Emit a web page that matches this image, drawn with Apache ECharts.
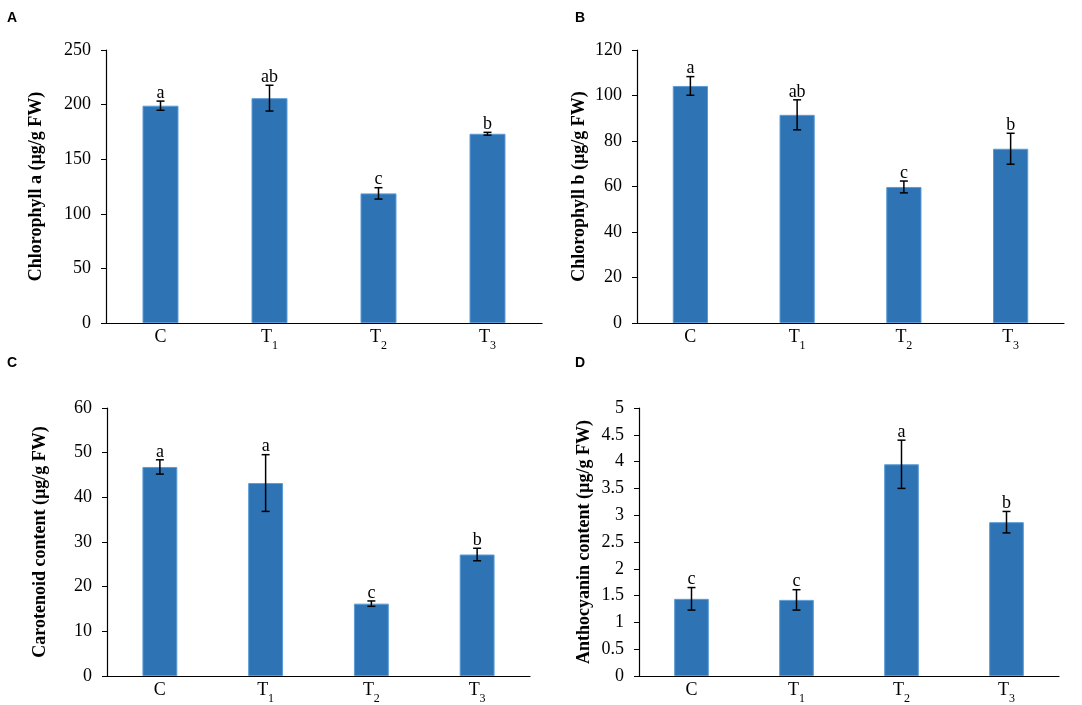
<!DOCTYPE html>
<html>
<head>
<meta charset="utf-8">
<script src="https://cdn.jsdelivr.net/npm/echarts@6/dist/echarts.min.js"></script>
<style>
html,body{margin:0;padding:0;background:#fff;}
#chart{width:1082px;height:705px;}
</style>
</head>
<body>
<div id="chart"></div>
<script>
var categories = ['C', 'T1', 'T2', 'T3'];

var chlA = [199, 205.9, 118.7, 173.3];
var chlAErr = [4.2, 11.8, 5.2, 1.3];
var chlALetters = ['a', 'ab', 'c', 'b'];

var chlB = [104.2, 91.5, 59.8, 76.6];
var chlBErr = [4.1, 6.6, 2.6, 6.8];
var chlBLetters = ['a', 'ab', 'c', 'b'];

var carot = [46.8, 43.2, 16.2, 27.2];
var carotErr = [1.6, 6.35, 0.6, 1.4];
var carotLetters = ['a', 'a', 'c', 'b'];

var antho = [1.44, 1.42, 3.95, 2.87];
var anthoErr = [0.21, 0.19, 0.45, 0.2];
var anthoLetters = ['c', 'c', 'a', 'b'];

var yTicksA = {min: 0, max: 250, interval: 50};
var yTicksB = {min: 0, max: 120, interval: 20};
var yTicksC = {min: 0, max: 60, interval: 10};
var yTicksD = {min: 0, max: 5, interval: 0.5};

var panels = [
  {name: 'Chlorophyll a (µg/g FW)', vals: chlA, err: chlAErr, letters: chlALetters, ticks: yTicksA,
   grid: {left: 106, top: 50, width: 436, height: 273}, gap: 61},
  {name: 'Chlorophyll b (µg/g FW)', vals: chlB, err: chlBErr, letters: chlBLetters, ticks: yTicksB,
   grid: {left: 637, top: 50, width: 427, height: 273}, gap: 49},
  {name: 'Carotenoid content (µg/g FW)', vals: carot, err: carotErr, letters: carotLetters, ticks: yTicksC,
   grid: {left: 107, top: 408, width: 423, height: 273}, gap: 58},
  {name: 'Anthocyanin content (µg/g FW)', vals: antho, err: anthoErr, letters: anthoLetters, ticks: yTicksD,
   grid: {left: 639, top: 408, width: 420, height: 273}, gap: 46}
];

var serif = '"Liberation Serif", "Times New Roman", serif';

var grids = [], xAxes = [], yAxes = [], series = [];
panels.forEach(function (p, i) {
  grids.push(p.grid);
  xAxes.push({
    type: 'category', gridIndex: i, data: categories,
    axisLine: {lineStyle: {color: '#000', width: 1.2}},
    axisTick: {show: false},
    axisLabel: {
      interval: 0, margin: 5, color: '#000', fontFamily: serif, fontSize: 18,
      formatter: function (v) {
        return v.length > 1 ? '{m|' + v.charAt(0) + '}{s|' + v.slice(1) + '}' : '{m|' + v + '}';
      },
      rich: {
        m: {fontFamily: serif, fontSize: 18, color: '#000'},
        s: {fontFamily: serif, fontSize: 12, color: '#000', verticalAlign: 'bottom', padding: [0, 0, -6, 0]}
      }
    }
  });
  yAxes.push({
    type: 'value', gridIndex: i, min: p.ticks.min, max: p.ticks.max, interval: p.ticks.interval,
    name: p.name, nameLocation: 'middle', nameGap: p.gap, nameRotate: 90,
    nameTextStyle: {fontFamily: serif, fontSize: 18, fontWeight: 'bold', color: '#000'},
    axisLine: {show: true, lineStyle: {color: '#000', width: 1.2}},
    axisTick: {show: true, length: 5, lineStyle: {color: '#000'}},
    splitLine: {show: false},
    axisLabel: {margin: 15, color: '#000', fontFamily: serif, fontSize: 18}
  });
  series.push({
    type: 'bar', xAxisIndex: i, yAxisIndex: i, data: p.vals, barWidth: '33%',
    itemStyle: {color: '#2E74B5', borderColor: '#5B9BD5', borderWidth: 1},
    silent: true
  });
  var errData = p.vals.map(function (v, k) { return [k, v, p.err[k], p.letters[k]]; });
  series.push({
    type: 'custom', xAxisIndex: i, yAxisIndex: i, data: errData, z: 10, silent: true,
    renderItem: function (params, api) {
      var k = api.value(0), m = api.value(1), e = api.value(2);
      var letter = errData[params.dataIndex][3];
      var top = api.coord([k, m + e]);
      var bot = api.coord([k, m - e]);
      var hw = 4;
      var st = {stroke: '#000', lineWidth: 1.5};
      return {
        type: 'group',
        children: [
          {type: 'line', shape: {x1: top[0], y1: top[1], x2: bot[0], y2: bot[1]}, style: st},
          {type: 'line', shape: {x1: top[0] - hw, y1: top[1], x2: top[0] + hw, y2: top[1]}, style: st},
          {type: 'line', shape: {x1: bot[0] - hw, y1: bot[1], x2: bot[0] + hw, y2: bot[1]}, style: st},
          {type: 'text', x: top[0], y: top[1] + 1,
           style: {text: letter, fill: '#000', font: '18px ' + serif, textAlign: 'center', textVerticalAlign: 'bottom'}}
        ]
      };
    }
  });
});

var panelLetters = [
  {text: 'A', left: 7, top: 11},
  {text: 'B', left: 575, top: 11},
  {text: 'C', left: 7, top: 356},
  {text: 'D', left: 575, top: 356}
];

var chart = echarts.init(document.getElementById('chart'));
chart.setOption({
  animation: false,
  backgroundColor: '#fff',
  grid: grids,
  xAxis: xAxes,
  yAxis: yAxes,
  series: series,
  graphic: panelLetters.map(function (l) {
    return {type: 'text', left: l.left, top: l.top,
      style: {text: l.text, fill: '#000', font: 'bold 14px "Liberation Sans", Arial, sans-serif'}};
  })
});
</script>
</body>
</html>
